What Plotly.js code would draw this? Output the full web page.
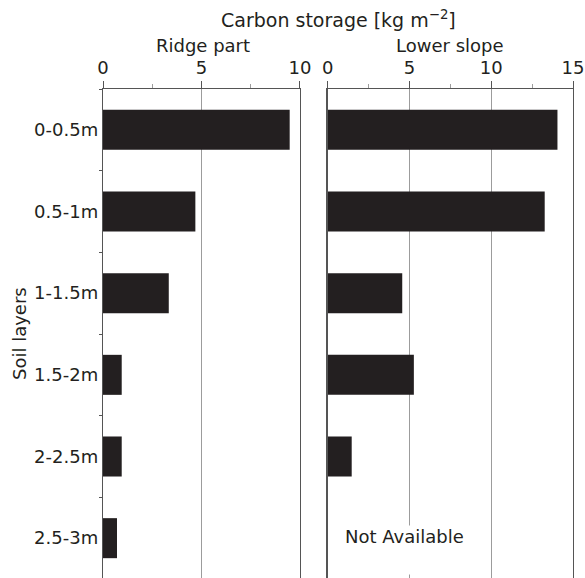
<!DOCTYPE html>
<html>
<head>
<meta charset="utf-8">
<script src="https://cdn.plot.ly/plotly-3.0.1.min.js"></script>
<style>
  html, body { margin: 0; padding: 0; overflow: hidden; background: #ffffff; }
  #chart { width: 585px; height: 581px; }
</style>
</head>
<body>
<div id="chart"></div>
<script>
// Soil layers (depth intervals), top to bottom
const layers = ['0-0.5m', '0.5-1m', '1-1.5m', '1.5-2m', '2-2.5m', '2.5-3m'];

// Carbon storage per layer [kg m-2]
const ridgePart = [9.48, 4.69, 3.34, 0.95, 0.95, 0.71];
const lowerSlope = [14.05, 13.27, 4.56, 5.27, 1.47, null]; // deepest layer not sampled

// Axis ticks for the two panels
const ridgeTicks = [0, 5, 10];
const lowerTicks = [0, 5, 10, 15];

const ink = '#231f20';
const axisLine = '#555555';
const gridLine = '#9c9c9c';
const font = 'DejaVu Sans, Arial, sans-serif';

const barStyle = { color: ink, line: { width: 0 } };

const traces = [
  {
    type: 'bar', orientation: 'h',
    x: ridgePart, y: layers,
    xaxis: 'x', yaxis: 'y',
    marker: barStyle, width: 0.49,
    hoverinfo: 'x+y', showlegend: false
  },
  {
    type: 'bar', orientation: 'h',
    x: lowerSlope, y: layers,
    xaxis: 'x2', yaxis: 'y2',
    marker: barStyle, width: 0.49,
    hoverinfo: 'x+y', showlegend: false
  }
];

function topAxis(domain, maxVal, ticks, anchor) {
  return {
    domain: domain,
    range: [0, maxVal],
    side: 'top',
    anchor: anchor,
    tickmode: 'array',
    tickvals: ticks,
    ticktext: ticks.map(String),
    ticks: 'outside',
    ticklen: 7,
    tickwidth: 1,
    tickcolor: axisLine,
    minor: { dtick: 2.5, tick0: 0, ticks: 'outside', ticklen: 4, tickwidth: 1, tickcolor: gridLine, showgrid: false },
    showline: true,
    linecolor: axisLine,
    linewidth: 1.2,
    mirror: true,
    showgrid: true,
    gridcolor: gridLine,
    gridwidth: 1,
    zeroline: false,
    tickfont: { family: font, size: 18, color: ink },
    fixedrange: true
  };
}

function layerAxis(anchor, labels) {
  return {
    type: 'category',
    categoryorder: 'array',
    categoryarray: layers,
    range: [5.5, -0.5],
    anchor: anchor,
    showticklabels: labels,
    ticks: labels ? 'outside' : '',
    tickson: 'boundaries',
    ticklen: 3,
    tickwidth: 1,
    tickcolor: axisLine,
    showline: true,
    linecolor: axisLine,
    linewidth: 1.2,
    mirror: true,
    showgrid: false,
    zeroline: false,
    tickfont: { family: font, size: 18, color: ink },
    fixedrange: true
  };
}

const layout = {
  width: 585,
  height: 581,
  margin: { l: 103, r: 12, t: 89, b: 2 },
  paper_bgcolor: '#ffffff',
  plot_bgcolor: '#ffffff',
  font: { family: font, size: 18, color: ink },
  bargap: 0.5,
  xaxis: topAxis([0, 0.419], 10, ridgeTicks, 'y'),
  yaxis: layerAxis('x', true),
  xaxis2: topAxis([0.478, 1], 15, lowerTicks, 'y2'),
  yaxis2: layerAxis('x2', false),
  annotations: [
    {
      text: 'Carbon storage [kg m<sup>\u22122</sup>]',
      xref: 'paper', yref: 'paper', x: 0.5, y: 1,
      xanchor: 'center', yanchor: 'bottom', yshift: 56,
      showarrow: false, font: { family: font, size: 19, color: ink }
    },
    {
      text: 'Ridge part',
      xref: 'x domain', yref: 'paper', x: 0.5, y: 1,
      xanchor: 'center', yanchor: 'bottom', yshift: 31, xshift: 2,
      showarrow: false, font: { family: font, size: 18, color: ink }
    },
    {
      text: 'Lower slope',
      xref: 'x2 domain', yref: 'paper', x: 0.5, y: 1,
      xanchor: 'center', yanchor: 'bottom', yshift: 31,
      showarrow: false, font: { family: font, size: 18, color: ink }
    },
    {
      text: 'Soil layers',
      xref: 'paper', yref: 'paper', x: 0, y: 0.5,
      xanchor: 'center', yanchor: 'middle', xshift: -84,
      textangle: -90,
      showarrow: false, font: { family: font, size: 18, color: ink }
    },
    {
      text: 'Not Available',
      xref: 'x2', yref: 'y2', x: 1, y: layers[5],
      xanchor: 'left', yanchor: 'top', yshift: 12.7,
      height: 48, valign: 'top', borderpad: 0,
      bgcolor: '#ffffff',
      showarrow: false, font: { family: font, size: 18, color: ink }
    }
  ]
};

Plotly.newPlot('chart', traces, layout, { displayModeBar: false, staticPlot: true });
</script>
</body>
</html>
